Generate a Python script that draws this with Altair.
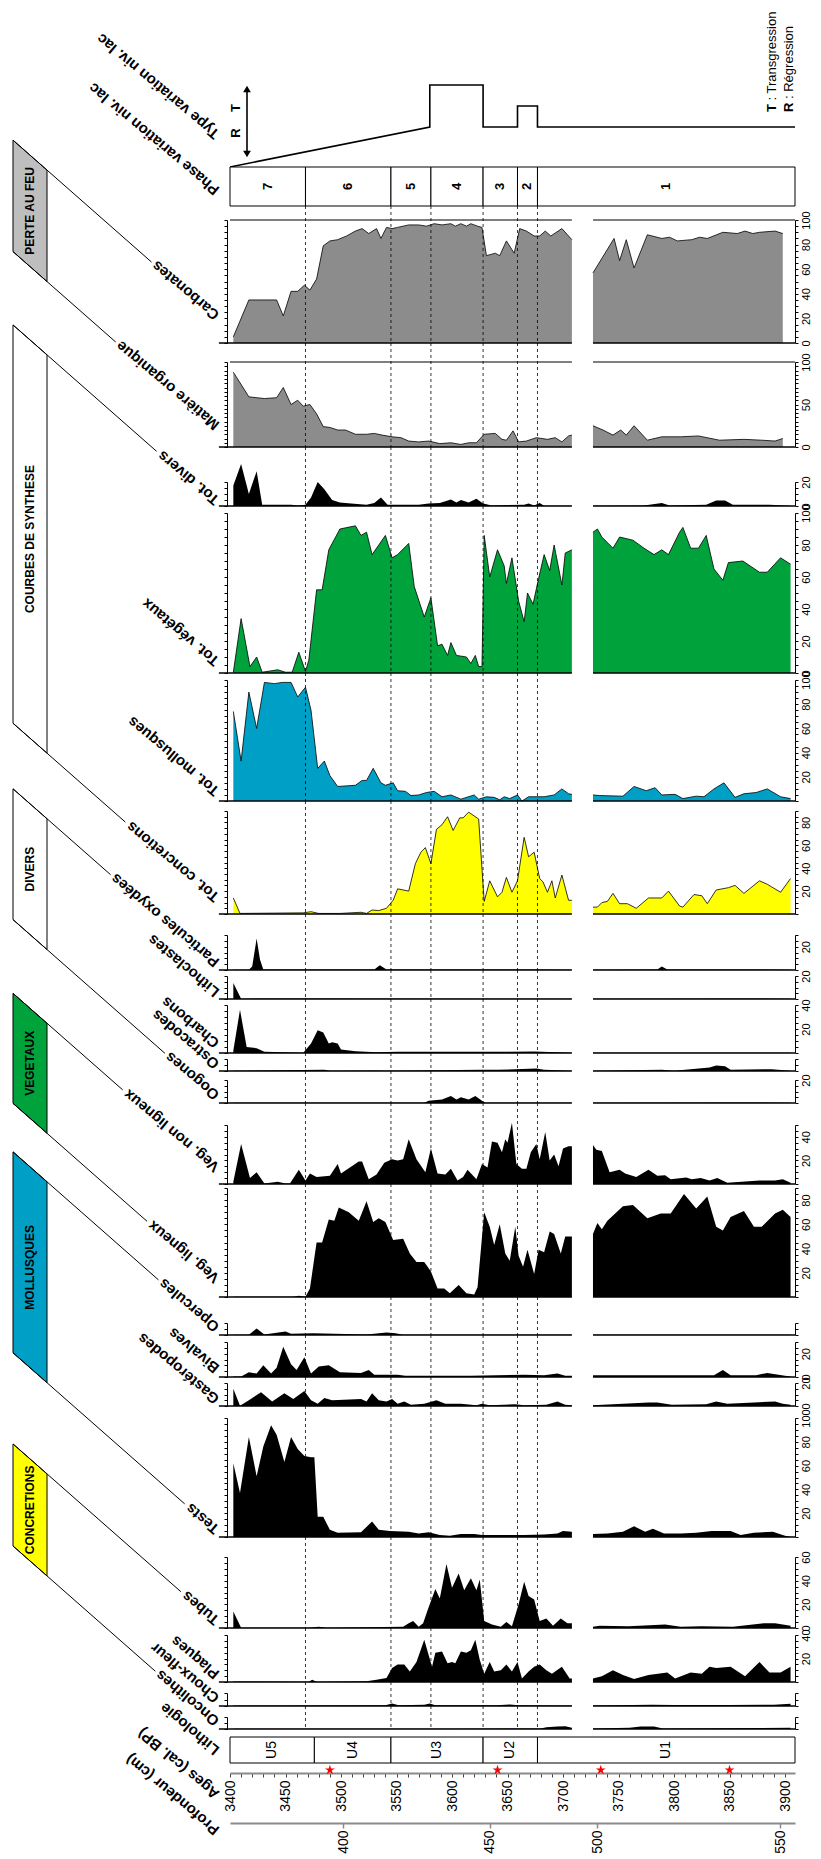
import math
import altair as alt
import pandas as pd

FONT = "Liberation Sans"
GRAY, GREEN, BLUE, YELLOW, BLACK = "#8c8c8c", "#00a23c", "#00a0c6", "#ffff00", "#000000"

# ================= series : ages (cal. BP) and values =================
carb_age = [3403,3417,3442,3448,3455,3461,3467,3472,3478,3484,3490,3497,3505,3513,3519,3525,3532,3536,3541,3546,
            3551,3561,3570,3577,3584,3591,3599,3603,3608,3613,3617,3623,3627,3631,3639,3643,3649,3656,3661,3667,
            3674,3679,3684,3689,3699,3708,
            3727,3746,3751,3757,3764,3776,3789,3796,3803,3816,3823,3830,3844,3857,3864,3871,3877,3891,3898]
carb_val = [5,35,35,22,42,42,47,43,52,79,83,84,87,91,93,89,93,85,94,93,
            94,96,96,95,97,96,97,95,97,95,97,95,94,71,73,71,83,73,93,91,
            87,87,91,87,93,84,
            57,85,67,84,61,88,85,86,83,84,86,85,90,89,91,89,90,91,89]

mo_age = [3403,3417,3431,3442,3448,3455,3461,3466,3472,3478,3484,3490,3497,3504,3513,3523,3530,3537,3546,3554,
          3561,3570,3579,3589,3599,3608,3615,3622,3629,3639,3645,3649,3655,3660,3667,3676,3686,3693,3699,3705,3708,
          3727,3736,3745,3752,3757,3764,3776,3789,3806,3822,3841,3863,3879,3891,3898]
mo_val = [88,59,57,58,70,50,55,48,50,39,24,23,20,20,15,15,16,14,12,11,
          7,6,7,4,5,3,5,5,15,16,9,8,19,6,7,11,9,11,6,13,14,
          25,20,14,20,14,25,8,12,12,13,8,9,8,7,10]

div_age = [3403,3410,3417,3424,3429,3438,3455,3462,3468,3473,3479,3485,3492,3499,3509,3523,3530,3536,3542,3551,
           3570,3579,3589,3599,3604,3608,3615,3622,3628,3636,3665,3669,3674,3679,3683,3708,
           3727,3773,3789,3796,3829,3838,3846,3853,3886,3905]
div_val = [17,35,10,29,1,1,1,0.5,1,7,20,14,5,3,2,1,2.5,7,1,1,
           1,2,2.5,5.5,3,5,3,6,2,0.5,1,2,0.5,2.5,0.3,0.3,
           0.3,0.5,2.5,0.5,1,4.5,4.5,1,1,0.3]

vt_age = [3403,3410,3418,3424,3429,3443,3450,3456,3462,3468,3471,3478,3483,3489,3499,3513,3518,3523,3528,3540,
          3546,3551,3561,3566,3575,3581,3587,3591,3596,3599,3604,3613,3617,3621,3624,3627,3629,3634,3641,3647,
          3649,3654,3660,3665,3668,3673,3678,3683,3688,3692,3699,3702,3708,
          3727,3731,3735,3745,3751,3763,3773,3782,3789,3795,3805,3808,3815,3822,3829,3836,3844,3849,3862,3877,
          3884,3896,3905]
vt_val = [0.5,34,4,10,0.5,2,0.5,0.5,13,1,8,52,52,77,90,92,86,88,74,86,
          72,74,81,54,35,47,17,18,11,19,11,10,6,11,4,4,86,60,77,67,
          56,72,45,32,50,43,59,74,64,80,55,75,77,
          88,90,85,78,85,83,78,74,77,74,88,91,78,78,86,65,58,69,70,63,
          63,72,68]

mt_age = [3403,3410,3417,3424,3431,3440,3447,3455,3461,3468,3473,3479,3485,3490,3497,3513,3519,3523,3529,3536,
          3540,3547,3551,3558,3563,3570,3577,3584,3591,3599,3608,3620,3624,3631,3638,3643,3647,3652,3659,3663,
          3669,3683,3692,3699,3705,3708,
          3727,3733,3754,3764,3775,3783,3789,3801,3808,3820,3827,3836,3845,3855,3863,3874,3884,3896,3905]
mt_val = [74,33,90,60,98,97,98,98,86,94,75,27,33,21,12,13,17,17,27,15,
          13,15,8.5,8,4.5,5,7,8,3.5,5,1.5,5,1.5,3.5,3,1,3.5,2,5,0,
          3.5,3.5,5,10,6,5.5,
          5,4.5,4,12,8.5,11,5,5.5,2,4,3.5,10,15,3,6,7,10,3.5,2]

ct_age = [3403,3409,3466,3473,3480,3499,3518,3523,3528,3534,3541,3547,3551,3561,3567,3572,3576,3581,3586,3591,
          3596,3601,3607,3610,3615,3624,3629,3634,3641,3645,3649,3654,3659,3665,3669,3674,3679,3682,3686,3690,
          3693,3699,3705,3708,
          3727,3731,3735,3740,3745,3751,3758,3766,3777,3789,3795,3805,3808,3818,3825,3830,3838,3849,3855,3863,
          3877,3884,3896,3905]
ct_val = [14,0.5,1,2,0.5,0.5,1.5,0.5,3.5,3,5,12,22,20,44,54,58,44,74,78,
          85,73,84,84,89,83,11,29,15,19,32,19,29,67,50,54,31,28,19,29,
          14,34,12,12,
          6,6,10,11,18,9,9,5,14,14,20,7,6,17,16,9,21,23,25,18,
          29,26,19,31]

po_age = [3403,3417,3420,3424,3427,3430,3530,3535,3541,3679,3708, 3727,3785,3789,3794,3905]
po_val = [0.3,0.3,3,27,9,0.5,0.5,4,0.5,0.5,0.3, 0.3,0.5,3,0.5,0.3]

lc_age = [3403,3410,3447,3466,3708, 3727,3860,3905]
lc_val = [14,0.3,0.5,0.5,0.2, 0.2,0.5,0.2]

ch_age = [3403,3409,3415,3424,3431,3466,3473,3479,3484,3489,3492,3497,3500,3513,3532,3551,3596,3674,3708, 3727,3905]
ch_val = [2,36,5,4,1,0.3,8,19,17,8,9,8,3,1.5,0.6,1,1,1.2,0.3, 0.2,0.2]

os_age = [3403,3485,3490,3534,3540,3626,3641,3676,3683,3708, 3727,3789,3800,3832,3838,3846,3851,3888,3905]
os_val = [0.2,1,0.2,0.5,0.2,1,1,2,1,0.2, 0.2,1,0.3,3,4.5,4,1,1.5,0.2]

oo_age = [3403,3575,3579,3591,3599,3604,3608,3615,3621,3627,3630,3708, 3727,3860,3905]
oo_val = [0.2,0.2,2,3,6,3,5,3,6,2,0.3,0.3, 0.2,0.5,0.2]

vn_age = [3403,3410,3418,3424,3431,3443,3450,3454,3462,3468,3472,3478,3490,3497,3500,3516,3519,3525,3532,3539,
          3546,3551,3556,3561,3568,3576,3581,3587,3594,3599,3605,3610,3614,3622,3627,3632,3636,3641,3645,3648,
          3650,3654,3658,3663,3667,3671,3676,3679,3684,3688,3692,3696,3700,3705,3708,
          3727,3730,3735,3742,3751,3756,3766,3777,3785,3792,3797,3811,3816,3824,3832,3839,3848,3877,3891,3898,3905]
vn_val = [2,34,5,10,0.5,2,0.5,0.5,12,3,9,6,7,17,9,19,19,4,8,18,
          21,20,21,38,21,10,30,9,8,13,3,6,12,4,17,14,36,35,27,38,
          35,52,17,13,13,27,34,21,44,20,25,15,30,32,32,
          33,29,28,10,12,9,6,12,7,7.5,4,5.5,4,5,3,5,1,3,3,4,1]

vl_age = [3403,3457,3462,3468,3472,3478,3483,3489,3494,3498,3507,3516,3523,3529,3534,3540,3547,3556,3562,3568,
          3575,3581,3587,3593,3598,3606,3613,3620,3623,3629,3634,3638,3643,3648,3652,3657,3660,3664,3668,3674,
          3678,3683,3688,3692,3698,3702,3708,
          3727,3731,3735,3740,3754,3763,3776,3788,3797,3809,3820,3830,3838,3844,3851,3863,3872,3879,3891,3898,3905]
vl_val = [0.3,0.3,1,0.3,7,45,45,64,63,74,70,63,79,62,65,62,47,48,36,29,
          29,21,7,7,3,10,3,2,8,70,58,43,60,36,30,58,34,25,39,19,
          39,37,54,52,36,50,50,
          52,61,56,63,75,76,65,69,69,85,73,83,58,55,66,71,58,58,69,72,66]

op_age = [3403,3417,3424,3431,3450,3455,3475,3523,3541,3549,3556,3708, 3727,3905]
op_val = [0.2,0.2,5.5,0.5,3,1,1.4,0.5,2,1.4,0.3,0.2, 0.2,0.2]

bv_age = [3403,3410,3417,3424,3430,3437,3442,3448,3455,3460,3467,3473,3480,3489,3499,3518,3525,3530,3551,3558,
          3617,3665,3683,3695,3702,3708,
          3727,3759,3806,3836,3844,3851,3874,3884,3900,3905]
bv_val = [0.5,0.5,4,3,10,3,8,26,11,6,17,3,9,10,4,3.5,6,2,2,1,
          1,2,1.5,3,1,1,
          1.5,1.5,1.5,1.5,6,1.5,1.5,3.5,1,0.5]

ga_age = [3403,3409,3417,3428,3438,3449,3457,3467,3473,3479,3485,3492,3518,3523,3528,3534,3541,3546,3551,3557,
          3563,3575,3586,3594,3608,3622,3627,3634,3657,3665,3685,3695,3702,3708,
          3727,3745,3777,3785,3798,3829,3838,3848,3872,3891,3898,3905]
ga_val = [15,0.3,5,12,4,11,6,13,5,2,7,5,6,4,11,5,4,6,2,4,
          1,2,5,2,2,0.6,2,0.6,1.5,0.6,1,4,1,0.6,
          0.6,1.5,3,3,1,1.5,4,2,3,4,2,1]

te_age = [3403,3409,3417,3424,3430,3437,3442,3449,3455,3461,3467,3473,3476,3479,3484,3490,3497,3518,3528,3534,
          3544,3561,3570,3579,3589,3598,3608,3620,3627,3646,3665,3683,3695,3700,3708,
          3727,3740,3754,3764,3774,3781,3791,3806,3820,3834,3851,3860,3872,3889,3900,3905]
te_val = [62,37,84,51,76,94,86,63,84,74,68,67,67,17,17,6,3.6,4,13,6,
          5,4.5,3,4,1.7,1,2.5,2.5,1.7,1.7,1.7,2,3,5,4.5,
          2.5,3,4.5,9,4.5,7,3,3,3.6,5,5,1.7,3.6,4.5,1,0.3]

tu_age = [3403,3410,3471,3480,3487,3556,3561,3565,3570,3574,3578,3585,3589,3595,3600,3606,3611,3617,3622,3625,
          3629,3636,3644,3649,3654,3660,3665,3669,3674,3679,3685,3691,3698,3704,3708,
          3727,3733,3759,3792,3806,3825,3853,3881,3891,3905]
tu_val = [14,0.2,0.2,1,0.2,1,4,6,1,4,15,33,25,54,34,46,32,42,32,41,
          6,3,1,5,1.5,20,39,27,24,6,8,2,8,4,4,
          1,2,1.5,3,1,1.5,1,4,4,2]

pl_age = [3403,3471,3474,3478,3523,3532,3541,3546,3551,3557,3562,3568,3575,3582,3585,3591,3596,3600,3603,3608,
          3613,3617,3621,3625,3629,3634,3638,3644,3649,3654,3659,3663,3669,3674,3679,3685,3690,3699,3706,3708,
          3727,3735,3745,3754,3764,3777,3794,3801,3815,3825,3832,3838,3851,3864,3877,3886,3896,3905]
pl_val = [0.5,0.2,2,0.3,0.6,2,3.4,12,15,15,9,17,36,13,25,26,16,17,16,26,
          25,27,36,19,7,17,9,10,15,9,17,3,9,13,15,10,7,13,3,3,
          3,5,10,6,2.5,6,8,3,8,7,13,12,13,5,17,8,8,13]

cf_age = [3403,3540,3546,3552,3575,3580,3585,3640,3652,3660,3708, 3727,3780,3800,3850,3890,3905]
cf_val = [0.3,0.5,2,0.6,1,2,0.6,0.6,1.2,0.6,0.4, 0.4,1,0.8,0.8,1,1.8]

on_age = [3403,3600,3680,3685,3695,3702,3708, 3727,3760,3770,3782,3790,3905]
on_val = [0.2,0.2,0.5,1.5,2,2.2,1, 0.5,1,2,2,0.5,1]

# ================= categories / axis values =================
phase_labels = ["7", "6", "5", "4", "3", "2", "1"]
phase_edges = [3400, 3468, 3545, 3581, 3628, 3659, 3677, 3909]
unit_labels = ["U5", "U4", "U3", "U2", "U1"]
unit_edges = [3400, 3476, 3545, 3628, 3677, 3909]
date_ages = [3490, 3641, 3734, 3850]
depth_cm = [400, 450, 500, 550]
depth_age = [3502, 3634, 3731, 3895.5]
lake_age = [3400, 3580, 3580, 3628, 3628, 3659, 3659, 3677, 3677, 3909]
lake_level = [-0.952, 0, 1, 1, 0, 0, 0.5, 0.5, 0, 0]

# ================= layout (page pixels) =================
X0, Y0 = 8, 8
PL, PR = 230, 795
W = PR - PL
DECOR_W = PL - X0
AGE_DOM = [3400, 3909]
SPLIT = 3718
SEGS = [(3390, 3708), (3727, 3909)]
BOTTOM = 1823
TOT_H = BOTTOM - Y0

xs = alt.Scale(domain=AGE_DOM, nice=False, zero=False)


def age_at(px):
    return AGE_DOM[0] + (px - PL) * (AGE_DOM[1] - AGE_DOM[0]) / W


def XA(field="age", axis=None):
    return alt.X(f"{field}:Q", scale=xs, axis=axis)


# key, label, ages, values, row top, baseline, page y of ymax, ymax, fill, outline, label step, label 0,
# top border, label lift above baseline
panels = [
    ("carb", "Carbonates", carb_age, carb_val, 206, 343, 220, 100, GRAY, True, 20, True, True, 26),
    ("mo", "Matière organique", mo_age, mo_val, 343, 447, 362, 100, GRAY, True, 50, True, True, 20),
    ("div", "Tot. divers", div_age, div_val, 447, 506, 482, 20, BLACK, False, 20, True, False, 4),
    ("vt", "Tot. végétaux", vt_age, vt_val, 506, 673, 513, 100, GREEN, True, 20, True, False, 10),
    ("mt", "Tot. mollusques", mt_age, mt_val, 673, 801, 680, 100, BLUE, True, 20, False, False, 8),
    ("ct", "Tot. concretions", ct_age, ct_val, 801, 914, 811, 90, YELLOW, True, 20, False, False, 15),
    ("po", "Particules oxydées", po_age, po_val, 914, 970, 935, 30, BLACK, False, 20, False, False, 6),
    ("lc", "Lithoclastes", lc_age, lc_val, 970, 999, 976, 20, BLACK, False, 20, False, False, 5),
    ("ch", "Charbons", ch_age, ch_val, 999, 1053, 1005, 40, BLACK, False, 20, False, False, 8),
    ("os", "Ostracodes", os_age, os_val, 1053, 1071, 1059, 10, BLACK, False, None, False, False, 5),
    ("oo", "Oogones", oo_age, oo_val, 1071, 1103, 1080, 20, BLACK, False, 20, False, False, 6),
    ("vn", "Veg. non ligneux", vn_age, vn_val, 1103, 1184, 1125, 50, BLACK, False, 20, False, False, 15),
    ("vl", "Veg. ligneux", vl_age, vl_val, 1184, 1297, 1188, 90, BLACK, False, 20, False, False, 17),
    ("op", "Opercules", op_age, op_val, 1297, 1335, 1323, 10, BLACK, False, None, False, False, 6),
    ("bv", "Bivalves", bv_age, bv_val, 1335, 1377, 1342, 30, BLACK, False, 20, True, False, 7),
    ("ga", "Gastéropodes", ga_age, ga_val, 1377, 1406, 1383, 20, BLACK, False, 20, True, False, 5),
    ("te", "Tests", te_age, te_val, 1406, 1537, 1418, 100, BLACK, False, 20, False, False, 6),
    ("tu", "Tubes", tu_age, tu_val, 1537, 1628, 1557, 60, BLACK, False, 20, True, False, 6),
    ("pl", "Plaques", pl_age, pl_val, 1628, 1682, 1635, 40, BLACK, False, 20, False, False, 6),
    ("cf", "Choux-fleur", cf_age, cf_val, 1682, 1706, 1693, 10, BLACK, False, None, False, False, 6),
    ("on", "Oncolithes", on_age, on_val, 1706, 1729, 1717, 10, BLACK, False, None, False, False, 6),
]

groups = [
    ("PERTE AU FEU", "carb", "mo", "#bebebe"),
    ("COURBES DE SYNTHESE", "div", "ct", "#ffffff"),
    ("DIVERS", "po", "oo", "#ffffff"),
    ("VEGETAUX", "vn", "vl", GREEN),
    ("MOLLUSQUES", "op", "te", BLUE),
    ("CONCRETIONS", "tu", "on", YELLOW),
]


def data_panel(p):
    key, label, ages, vals, top, base, ytop, ymax, fill, outline, step, lab0, border, lift = p
    H = base - top
    ysc = alt.Scale(domain=[0, ymax], range=[H, ytop - top], nice=False, zero=False)
    df = pd.DataFrame({"age": ages, "v": vals})
    ticks = list(range(0, ymax + 1, 5))
    left_axis = alt.Axis(orient="left", values=ticks, labels=False, tickSize=3, offset=3,
                         domainColor="black", tickColor="black", grid=False, title=None)
    if step is None:
        right_axis = alt.Axis(orient="right", values=ticks, labels=False, tickSize=3,
                              domainColor="black", tickColor="black", grid=False, title=None)
    else:
        cmp = ">=" if lab0 else ">"
        right_axis = alt.Axis(orient="right", values=ticks,
                              labelExpr=f"(datum.value % {step} === 0 && datum.value {cmp} 0) ? datum.label : ''",
                              labelAngle=270, labelAlign="center", labelBaseline="top",
                              labelFontSize=11, labelPadding=2, labelColor="black",
                              labelOverlap=False, labelFlush=False, labelBound=False,
                              tickSize=3, domainColor="black", tickColor="black", grid=False, title=None)
    layers = []
    for i, sub in enumerate([df[df["age"] < SPLIT], df[df["age"] > SPLIT]]):
        c = alt.Chart(sub)
        layers.append(c.mark_area(color=fill, opacity=1).encode(
            x=XA(), y=alt.Y("v:Q", scale=ysc, axis=left_axis if i == 0 else None)))
        if outline:
            layers.append(c.mark_line(color="black", strokeWidth=0.8).encode(
                x=XA(), y=alt.Y("v:Q", scale=ysc, axis=None)))
    bdf = pd.DataFrame({"a": [s[0] for s in SEGS], "b": [s[1] for s in SEGS], "y": [0, 0]})
    layers.append(alt.Chart(bdf).mark_rule(color="black", strokeWidth=1.3).encode(
        x=XA("a"), x2="b:Q", y=alt.Y("y:Q", scale=ysc, axis=None)))
    if border:
        tdf = pd.DataFrame({"a": [AGE_DOM[0], SEGS[1][0]], "b": [SEGS[0][1], AGE_DOM[1]], "y": [ymax, ymax]})
        layers.append(alt.Chart(tdf).mark_rule(color="black", strokeWidth=1.2).encode(
            x=XA("a"), x2="b:Q", y=alt.Y("y:Q", scale=ysc, axis=None)))
    layers.append(alt.Chart(pd.DataFrame({"age": phase_edges[1:-1]})).mark_rule(
        color="black", strokeWidth=0.8, strokeDash=[3, 3]).encode(x=XA()))
    layers.append(alt.Chart(df).mark_point(opacity=0, size=1).encode(
        x=XA(), y=alt.Y("v:Q", scale=ysc, axis=right_axis)))
    return alt.layer(*layers).properties(width=W, height=H).resolve_axis(y="independent")


def lv(py):
    return (127 - py) / 42.0


BOLD_W = {" ": 278, "(": 333, ")": 333, ".": 278, "-": 333, ":": 333,
          "A": 722, "B": 722, "C": 722, "D": 722, "E": 667, "F": 611, "G": 778, "H": 722, "I": 278,
          "L": 611, "M": 833, "N": 722, "O": 778, "P": 667, "Q": 778, "R": 722, "S": 667, "T": 611,
          "U": 722, "V": 667, "Y": 667,
          "a": 556, "b": 611, "c": 556, "d": 611, "e": 556, "f": 333, "g": 611, "h": 611, "i": 278,
          "j": 278, "k": 556, "l": 278, "m": 889, "n": 611, "o": 611, "p": 611, "q": 611, "r": 389,
          "s": 556, "t": 333, "u": 611, "v": 556, "w": 778, "x": 556, "y": 556, "z": 500,
          "é": 556, "è": 556}


def tw(s, size):
    return sum(BOLD_W.get(ch, 600) for ch in s) * size / 1000.0


def type_panel():
    top, base = Y0, 167
    H = base - top
    ysc = alt.Scale(domain=[lv(base), lv(top)], nice=False, zero=False)
    ldf = pd.DataFrame({"age": lake_age, "lvl": lake_level, "i": list(range(len(lake_age)))})
    step = alt.Chart(ldf).mark_line(color="black", strokeWidth=1.6).encode(
        x=XA(), y=alt.Y("lvl:Q", scale=ysc, axis=None), order="i:Q")
    ax = age_at(247)
    shaft = alt.Chart(pd.DataFrame({"age": [ax], "a": [lv(89)], "b": [lv(154)]})).mark_rule(
        color="black", strokeWidth=1.6).encode(x=XA(), y=alt.Y("a:Q", scale=ysc, axis=None), y2="b:Q")
    heads = alt.Chart(pd.DataFrame({"age": [ax, ax], "lvl": [lv(89), lv(154)],
                                    "s": ["triangle-up", "triangle-down"]})).mark_point(
        filled=True, color="black", opacity=1, size=60).encode(
        x=XA(), y=alt.Y("lvl:Q", scale=ysc, axis=None), shape=alt.Shape("s:N", scale=None))
    tr = alt.Chart(pd.DataFrame({"age": [age_at(236)] * 2, "lvl": [lv(108), lv(133)], "t": ["T", "R"]})).mark_text(
        angle=270, fontWeight="bold", fontSize=13, align="center", baseline="middle", color="black").encode(
        x=XA(), y=alt.Y("lvl:Q", scale=ysc, axis=None), text="t:N")
    leg_x = [age_at(772), age_at(789)]
    leg1 = alt.Chart(pd.DataFrame({"age": leg_x, "lvl": [lv(112)] * 2, "t": ["T", "R"]})).mark_text(
        angle=270, fontWeight="bold", fontSize=13, align="left", baseline="middle", color="black").encode(
        x=XA(), y=alt.Y("lvl:Q", scale=ysc, axis=None), text="t:N")
    off = [tw("T ", 13), tw("R ", 13)]
    leg2 = alt.Chart(pd.DataFrame({"age": leg_x, "lvl": [lv(112 - off[0]), lv(112 - off[1])],
                                   "t": [": Transgression", ": Régression"]})).mark_text(
        angle=270, fontSize=13, align="left", baseline="middle", color="black").encode(
        x=XA(), y=alt.Y("lvl:Q", scale=ysc, axis=None), text="t:N")
    return alt.layer(step, shaft, heads, tr, leg1, leg2).properties(width=W, height=H)


def phase_panel():
    H = 206 - 167
    pdf = pd.DataFrame({"p": phase_labels, "a": phase_edges[:-1], "b": phase_edges[1:]})
    pdf["m"] = (pdf["a"] + pdf["b"]) / 2
    rects = alt.Chart(pdf).mark_rect(fill="white", stroke="black", strokeWidth=1).encode(x=XA("a"), x2="b:Q")
    txt = alt.Chart(pdf).mark_text(angle=270, fontWeight="bold", fontSize=13, color="black",
                                   align="center", baseline="middle").encode(x=XA("m"), text="p:N")
    return alt.layer(rects, txt).properties(width=W, height=H)


def litho_panel():
    top, base = 1729, 1763
    H = base - top
    ysc = alt.Scale(domain=[0, 1], range=[H, 8], nice=False, zero=False)
    udf = pd.DataFrame({"u": unit_labels, "a": unit_edges[:-1], "b": unit_edges[1:]})
    udf["m"] = (udf["a"] + udf["b"]) / 2
    udf["y0"] = 0.0
    udf["y1"] = 1.0
    udf["ym"] = 0.5
    age_axis = alt.Axis(orient="bottom", values=list(range(3400, 3901, 10)), format="d",
                        labelExpr="datum.value % 50 === 0 ? datum.label : ''",
                        labelAngle=270, labelAlign="right", labelBaseline="middle",
                        labelFontSize=14, labelPadding=3, labelColor="black",
                        labelOverlap=False, labelFlush=False, labelBound=False,
                        tickSize=4, tickColor="#444444", domainColor="#8a8a8a", domainWidth=2,
                        offset=10, grid=False, title=None)
    rects = alt.Chart(udf).mark_rect(fill="white", stroke="black", strokeWidth=1).encode(
        x=XA("a", age_axis), x2="b:Q", y=alt.Y("y0:Q", scale=ysc, axis=None), y2="y1:Q")
    txt = alt.Chart(udf).mark_text(angle=270, fontSize=14, color="black", align="center",
                                   baseline="middle").encode(
        x=XA("m", age_axis), y=alt.Y("ym:Q", scale=ysc, axis=None), text="u:N")
    star = ("M0,-1L0.2245,-0.309L0.9511,-0.309L0.3633,0.118L0.5878,0.809L0,0.382"
            "L-0.5878,0.809L-0.3633,0.118L-0.9511,-0.309L-0.2245,-0.309Z")
    sdf = pd.DataFrame({"age": date_ages, "y": [-(1770 - base) / (H - 8)] * len(date_ages)})
    stars = alt.Chart(sdf).mark_point(shape=star, size=110, filled=True, color="#ff0000", opacity=1).encode(
        x=XA("age", age_axis), y=alt.Y("y:Q", scale=ysc, axis=None))
    return alt.layer(rects, txt, stars).properties(width=W, height=H)


def depth_panel():
    H = BOTTOM - 1763
    expr = " : ".join(f"abs(datum.value - {a}) < 0.01 ? '{c}'" for a, c in zip(depth_age, depth_cm)) + " : ''"
    d_axis = alt.Axis(orient="bottom", values=depth_age, labelExpr=expr,
                      labelAngle=270, labelAlign="right", labelBaseline="middle",
                      labelFontSize=14, labelPadding=2, labelColor="black",
                      labelOverlap=False, labelFlush=False, labelBound=False,
                      tickSize=5, tickWidth=1.5, tickColor="#8a8a8a", domainColor="#8a8a8a", domainWidth=2,
                      grid=False, title=None)
    return alt.Chart(pd.DataFrame({"age": depth_age, "cm": depth_cm})).mark_point(opacity=0).encode(
        x=XA("age", d_axis)).properties(width=W, height=H)


# ================= left decoration: slanted labels, group boxes =================
ANG = 220.0
DX, DY = math.cos(math.radians(ANG)), math.sin(math.radians(ANG))
SLOPE = 0.88          # slope of the leader lines / box edges
LS = 15
LX = 217
lab_rows = [("Type variation niv. lac", LX, 136), ("Phase variation niv. lac", LX, 192)]
ends = {}
for p in panels:
    sy = p[5] - p[13]
    lab_rows.append((p[1], LX, sy))
    L = tw(p[1], LS) + 3
    ends[p[0]] = (LX + L * DX, sy + L * DY)
lab_rows += [("Lithologie", LX, 1752), ("Ages (cal. BP)", LX, 1796), ("Profondeur (cm)", LX, 1832)]


def y_on_line(end, xq):
    return end[1] - SLOPE * (end[0] - xq)


BX0, BX1 = 13, 47
box_rows, line_rows, title_rows = [], [], []
for title, k1, k2, fill in groups:
    e1, e2 = ends[k1], ends[k2]
    t0, t1 = y_on_line(e1, BX0), y_on_line(e1, BX1)
    b0, b1 = y_on_line(e2, BX0), y_on_line(e2, BX1)
    box_rows.append({"g": title, "x": BX0 - X0, "yt": t0 - Y0, "yb": b0 - Y0, "fill": fill})
    box_rows.append({"g": title, "x": BX1 - X0, "yt": t1 - Y0, "yb": b1 - Y0, "fill": fill})
    for e, y0 in ((e1, t0), (e2, b0)):
        line_rows.append({"x": BX0 - X0, "y": y0 - Y0, "x2": e[0] - X0, "y2": e[1] - Y0})
    title_rows.append({"t": title, "x": (BX0 + BX1) / 2 - X0, "y": (t0 + t1 + b0 + b1) / 4 - Y0})

dxs = alt.Scale(domain=[0, DECOR_W], nice=False, zero=False)
dys = alt.Scale(domain=[0, TOT_H], reverse=True, nice=False, zero=False)
lab_df = pd.DataFrame({"t": [r[0] for r in lab_rows], "x": [r[1] - X0 for r in lab_rows],
                       "y": [r[2] - Y0 for r in lab_rows]})
decor = alt.layer(
    alt.Chart(pd.DataFrame(box_rows)).mark_area(stroke="black", strokeWidth=1, opacity=1).encode(
        x=alt.X("x:Q", scale=dxs, axis=None), y=alt.Y("yt:Q", scale=dys, axis=None), y2="yb:Q",
        color=alt.Color("fill:N", scale=None), detail="g:N"),
    alt.Chart(pd.DataFrame(line_rows)).mark_rule(color="black", strokeWidth=1).encode(
        x=alt.X("x:Q", scale=dxs, axis=None), y=alt.Y("y:Q", scale=dys, axis=None), x2="x2:Q", y2="y2:Q"),
    alt.Chart(pd.DataFrame(title_rows)).mark_text(angle=270, fontWeight="bold", fontSize=12, color="black",
                                                  align="center", baseline="middle").encode(
        x=alt.X("x:Q", scale=dxs, axis=None), y=alt.Y("y:Q", scale=dys, axis=None), text="t:N"),
    alt.Chart(lab_df).mark_text(angle=ANG, fontWeight="bold", fontSize=LS, color="black",
                                align="left", baseline="middle").encode(
        x=alt.X("x:Q", scale=dxs, axis=None), y=alt.Y("y:Q", scale=dys, axis=None), text="t:N"),
).properties(width=DECOR_W, height=TOT_H)

rows = [type_panel(), phase_panel()] + [data_panel(p) for p in panels] + [litho_panel(), depth_panel()]
right = alt.vconcat(*rows, spacing=0, bounds="flush")

chart = alt.hconcat(decor, right, spacing=0, bounds="flush").properties(padding=0).configure(
    font=FONT).configure_view(stroke=None)

chart.save("out.html", embed_options={"renderer": "svg", "actions": False})
